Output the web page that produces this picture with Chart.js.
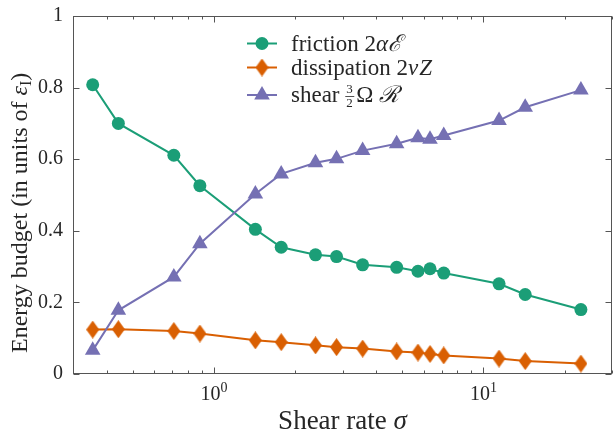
<!DOCTYPE html>
<html>
<head>
<meta charset="utf-8">
<script src="https://cdn.jsdelivr.net/npm/chart.js@4"></script>
<style>
  html, body { margin: 0; padding: 0; background: #fff; }
  #wrap { width: 614px; height: 437px; }
</style>
</head>
<body>
<div id="wrap"><canvas id="budgetChart"></canvas></div>
<script>
// shear rate sigma (x, log scale)
const sigma = [0.355, 0.442, 0.710, 0.887, 1.425, 1.777, 2.382, 2.851, 3.563, 4.765, 5.717, 6.336, 7.125, 11.43, 14.29, 23.0];
// energy budget terms, in units of eps_I
const friction = [0.808, 0.700, 0.611, 0.526, 0.404, 0.354, 0.333, 0.328, 0.305, 0.298, 0.287, 0.294, 0.282, 0.252, 0.222, 0.180];
const dissipation = [0.124, 0.125, 0.120, 0.113, 0.094, 0.089, 0.080, 0.075, 0.071, 0.063, 0.060, 0.056, 0.052, 0.043, 0.036, 0.029];
const shear = [0.066, 0.178, 0.271, 0.364, 0.503, 0.559, 0.590, 0.601, 0.624, 0.643, 0.660, 0.656, 0.666, 0.708, 0.745, 0.793];

const xMajor = [1, 10];
const xMajorExp = ['0', '1'];
const xMinor = [0.3, 0.4, 0.5, 0.6, 0.7, 0.8, 0.9, 2, 3, 4, 5, 6, 7, 8, 9, 20, 30];
const yTicks = [0, 0.2, 0.4, 0.6, 0.8, 1];

const GREEN = '#1b9e77';
const ORANGE = '#d95f02';
const PURPLE = '#7570b3';
const INK = '#262626';
const SERIF = '"Liberation Serif", "DejaVu Serif", serif';

function toPoints(ys) {
    return sigma.map((s, i) => ({ x: s, y: ys[i] }));
}

function diamondImage(w, h, color) {
    const c = document.createElement('canvas');
    c.width = w;
    c.height = h;
    const g = c.getContext('2d');
    g.fillStyle = color;
    g.beginPath();
    g.moveTo(w / 2, 0);
    g.lineTo(w, h / 2);
    g.lineTo(w / 2, h);
    g.lineTo(0, h / 2);
    g.closePath();
    g.fill();
    return c;
}

const diamond = diamondImage(13, 18, ORANGE);

// draw a row of text pieces with different fonts, left to right
function drawRuns(ctx, x, y, runs) {
    runs.forEach(r => {
        ctx.font = r.font;
        ctx.fillText(r.t, x, y + (r.dy || 0));
        x += ctx.measureText(r.t).width + (r.gap || 0);
    });
    return x;
}

function runsWidth(ctx, runs) {
    let w = 0;
    runs.forEach(r => { ctx.font = r.font; w += ctx.measureText(r.t).width + (r.gap || 0); });
    return w;
}

const axesPlugin = {
    id: 'axesPlugin',
    afterDraw(chart) {
        const ctx = chart.ctx;
        const a = chart.chartArea;
        const xs = chart.scales.x;
        const ys = chart.scales.y;
        ctx.save();

        // box
        ctx.strokeStyle = '#555';
        ctx.lineWidth = 1;
        const L = Math.round(a.left) + 0.5, R = Math.round(a.right) - 0.5;
        const T = Math.round(a.top) + 0.5, B = Math.round(a.bottom) - 0.5;
        ctx.strokeRect(L, T, R - L, B - T);

        // inward ticks
        ctx.beginPath();
        yTicks.forEach(v => {
            const y = Math.round(ys.getPixelForValue(v)) + 0.5;
            ctx.moveTo(L, y); ctx.lineTo(L + 6, y);
            ctx.moveTo(R, y); ctx.lineTo(R - 6, y);
        });
        xMajor.forEach(v => {
            const x = Math.round(xs.getPixelForValue(v)) + 0.5;
            ctx.moveTo(x, B); ctx.lineTo(x, B - 6);
            ctx.moveTo(x, T); ctx.lineTo(x, T + 6);
        });
        xMinor.forEach(v => {
            const x = Math.round(xs.getPixelForValue(v)) + 0.5;
            ctx.moveTo(x, B); ctx.lineTo(x, B - 3);
            ctx.moveTo(x, T); ctx.lineTo(x, T + 3);
        });
        ctx.stroke();

        ctx.fillStyle = INK;
        ctx.textBaseline = 'alphabetic';
        ctx.textAlign = 'left';

        // x tick labels 10^k
        xMajor.forEach((v, i) => {
            const runs = [
                { t: '10', font: '20px ' + SERIF },
                { t: xMajorExp[i], font: '14px ' + SERIF, dy: -8 }
            ];
            const w = runsWidth(ctx, runs);
            drawRuns(ctx, xs.getPixelForValue(v) - w / 2, 400, runs);
        });

        // x title
        const xt = [
            { t: 'Shear rate ', font: '27px ' + SERIF },
            { t: 'σ', font: 'italic 27px ' + SERIF }
        ];
        drawRuns(ctx, (a.left + a.right) / 2 - runsWidth(ctx, xt) / 2, 429, xt);

        // y title, reads bottom to top starting just above the x axis
        const yt = [
            { t: 'Energy budget (in units of ', font: '24px ' + SERIF },
            { t: 'ε', font: 'italic 24px ' + SERIF },
            { t: 'I', font: '16px ' + SERIF, dy: 4 },
            { t: ')', font: '24px ' + SERIF }
        ];
        ctx.save();
        ctx.translate(27, a.bottom - 21);
        ctx.rotate(-Math.PI / 2);
        drawRuns(ctx, 0, 0, yt);
        ctx.restore();

        // legend
        const lx0 = 247, lx1 = 277, mx = 262, tx = 291;
        const rows = [43.5, 67.5, 95];
        ctx.lineWidth = 2;

        ctx.strokeStyle = GREEN;
        ctx.beginPath(); ctx.moveTo(lx0, rows[0]); ctx.lineTo(lx1, rows[0]); ctx.stroke();
        ctx.fillStyle = GREEN;
        ctx.beginPath(); ctx.arc(mx, rows[0], 6.5, 0, Math.PI * 2); ctx.fill();

        ctx.strokeStyle = ORANGE;
        ctx.beginPath(); ctx.moveTo(lx0, rows[1]); ctx.lineTo(lx1, rows[1]); ctx.stroke();
        ctx.drawImage(diamond, mx - diamond.width / 2, rows[1] - diamond.height / 2);

        ctx.strokeStyle = PURPLE;
        ctx.beginPath(); ctx.moveTo(lx0, rows[2]); ctx.lineTo(lx1, rows[2]); ctx.stroke();
        ctx.fillStyle = PURPLE;
        ctx.beginPath();
        ctx.moveTo(mx, rows[2] - 9);
        ctx.lineTo(mx + 7.8, rows[2] + 4.5);
        ctx.lineTo(mx - 7.8, rows[2] + 4.5);
        ctx.closePath(); ctx.fill();

        ctx.fillStyle = INK;
        const F = '23px ' + SERIF, FI = 'italic 23px ' + SERIF;
        drawRuns(ctx, tx, rows[0] + 7, [
            { t: 'friction 2', font: F },
            { t: 'α', font: FI },
            { t: 'ℰ', font: FI }
        ]);
        drawRuns(ctx, tx, rows[1] + 7, [
            { t: 'dissipation 2', font: F },
            { t: 'ν', font: FI, gap: 1 },
            { t: 'Z', font: FI }
        ]);
        let x = drawRuns(ctx, tx, rows[2] + 7, [{ t: 'shear ', font: F }]);
        // stacked fraction 3/2
        ctx.font = '13px ' + SERIF;
        ctx.fillText('3', x + 1, rows[2] - 2);
        ctx.fillText('2', x + 1, rows[2] + 12);
        ctx.strokeStyle = INK;
        ctx.lineWidth = 0.8;
        ctx.beginPath(); ctx.moveTo(x, rows[2] + 1.5); ctx.lineTo(x + 9, rows[2] + 1.5); ctx.stroke();
        drawRuns(ctx, x + 11, rows[2] + 7, [
            { t: 'Ω ', font: F },
            { t: 'ℛ', font: FI }
        ]);

        ctx.restore();
    }
};

const ctx = document.getElementById('budgetChart').getContext('2d');
new Chart(ctx, {
    type: 'line',
    data: {
        datasets: [
            {
                label: 'friction',
                data: toPoints(friction),
                borderColor: GREEN,
                backgroundColor: GREEN,
                borderWidth: 2,
                pointStyle: 'circle',
                pointRadius: 6.5,
                pointBorderWidth: 0,
                order: 3
            },
            {
                label: 'dissipation',
                data: toPoints(dissipation),
                borderColor: ORANGE,
                backgroundColor: ORANGE,
                borderWidth: 2,
                pointStyle: diamond,
                order: 2
            },
            {
                label: 'shear',
                data: toPoints(shear),
                borderColor: PURPLE,
                backgroundColor: PURPLE,
                borderWidth: 2,
                pointStyle: 'triangle',
                pointRadius: 9,
                pointBorderWidth: 0,
                order: 1
            }
        ]
    },
    options: {
        responsive: true,
        maintainAspectRatio: false,
        animation: false,
        layout: { autoPadding: false, padding: { top: 16, right: 2, left: 0, bottom: 0 } },
        plugins: {
            legend: { display: false },
            tooltip: { enabled: false }
        },
        scales: {
            x: {
                type: 'logarithmic',
                min: 0.3,
                max: 30,
                grid: { display: false, drawTicks: false },
                border: { display: false },
                ticks: { display: false },
                afterFit: function (scale) {
                    scale.height = 63;
                    scale.paddingLeft = 0;
                    scale.paddingRight = 0;
                }
            },
            y: {
                min: 0,
                max: 1,
                grid: { display: false, drawTicks: false },
                border: { display: false },
                afterBuildTicks: function (scale) {
                    scale.ticks = yTicks.map(v => ({ value: v }));
                },
                ticks: {
                    padding: 10,
                    color: INK,
                    font: { family: SERIF, size: 20 },
                    callback: function (value) { return String(value); }
                },
                afterFit: function (scale) {
                    scale.width = 73;
                    scale.paddingTop = 0;
                    scale.paddingBottom = 0;
                }
            }
        }
    },
    plugins: [axesPlugin]
});
</script>
</body>
</html>
